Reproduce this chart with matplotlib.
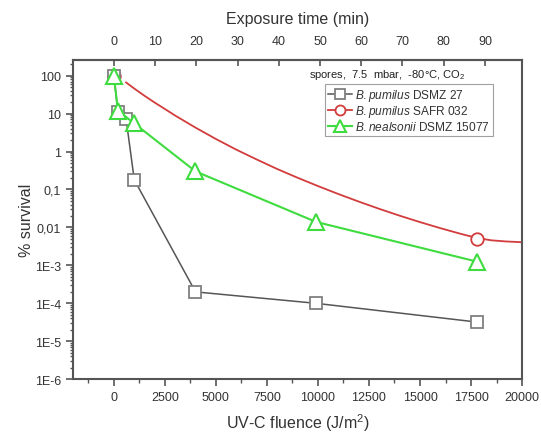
import matplotlib
matplotlib.use("Agg")
import matplotlib.pyplot as plt
from matplotlib.ticker import FixedLocator, FixedFormatter, MultipleLocator, LogLocator, NullFormatter

plt.rcParams['font.family'] = ['Liberation Sans', 'DejaVu Sans']
plt.rcParams['mathtext.fontset'] = 'custom'
plt.rcParams['mathtext.rm'] = 'Liberation Sans'
plt.rcParams['mathtext.it'] = 'Liberation Sans:italic'

# Datos
fluencia_dsmz27 = [0, 200, 600, 1000, 4000, 9900, 17800]
superv_dsmz27 = [100, 11, 7.2, 0.18, 2e-4, 1e-4, 3.2e-5]

fluencia_safr = [0, 17800]
superv_safr = [100, 0.005]
# curva de ajuste SAFR 032 (leida punto a punto)
curva_safr_x = [600, 1000, 1500, 2000, 2500, 3000, 4000, 5000, 6000, 7000, 8000, 9000,
                10000, 11000, 12000, 13000, 14000, 15000, 16000, 17000, 17800, 18500,
                19200, 20000]
curva_safr_y = [66, 45.7, 29.5, 19.5, 13.2, 8.9, 4.27, 2.14, 1.12, 0.617, 0.347, 0.204,
                0.123, 0.0759, 0.0479, 0.0309, 0.0204, 0.0138, 0.00955, 0.00676, 0.00525,
                0.00457, 0.00427, 0.00407]

fluencia_nealsonii = [0, 200, 1000, 4000, 9900, 17800]
superv_nealsonii = [100, 12, 5.5, 0.3, 0.014, 1.25e-3]

ticks_y = [1e2, 1e1, 1, 1e-1, 1e-2, 1e-3, 1e-4, 1e-5, 1e-6]
etiquetas_y = ["100", "10", "1", "0,1", "0,01", "1E-3", "1E-4", "1E-5", "1E-6"]
ticks_min = [0, 10, 20, 30, 40, 50, 60, 70, 80, 90]
FLU_POR_MIN = 202.0

gris = "#555555"
rojo = "#d23c3c"
verde = "#3fdc3f"

fig = plt.figure(figsize=(5.41, 4.35), dpi=100)
ax = fig.add_axes([0.135, 0.126, 0.83, 0.734])

ax.plot(curva_safr_x, curva_safr_y, color=rojo, lw=1.3, zorder=2)
ax.plot(fluencia_safr, superv_safr, color=rojo, lw=1.3, ls='none', marker='o', ms=9,
        mfc='white', mec=rojo, mew=1.3, zorder=3)
ax.plot(fluencia_dsmz27, superv_dsmz27, color=gris, lw=1.1, marker='s', ms=8.5,
        mfc='white', mec='#808080', mew=1.3, zorder=4,
        label=r"$\it{B.pumilus}$ DSMZ 27")
ax.plot([], [], color=rojo, lw=1.3, marker='o', ms=9, mfc='white', mec=rojo, mew=1.3,
        label=r"$\it{B.pumilus}$ SAFR 032")
ax.plot(fluencia_nealsonii, superv_nealsonii, color=verde, lw=1.5, marker='^', ms=11,
        mfc='white', mec=verde, mew=1.5, zorder=5,
        label=r"$\it{B.nealsonii}$ DSMZ 15077")

ax.set_yscale('log')
ax.set_ylim(1e-6, 260)
ax.set_xlim(-2000, 20000)

ax.yaxis.set_major_locator(FixedLocator(ticks_y))
ax.yaxis.set_major_formatter(FixedFormatter(etiquetas_y))
ax.yaxis.set_minor_locator(LogLocator(base=10, subs=range(2, 10), numticks=20))
ax.yaxis.set_minor_formatter(NullFormatter())

ax.xaxis.set_major_locator(FixedLocator([0, 2500, 5000, 7500, 10000, 12500, 15000, 17500, 20000]))
ax.xaxis.set_minor_locator(MultipleLocator(1250))

for s in ax.spines.values():
    s.set_color(gris)
    s.set_linewidth(1.5)

ax.tick_params(axis='both', which='major', direction='out', length=5, width=1.2,
               color=gris, labelsize=9, labelcolor='#333333')
ax.tick_params(axis='both', which='minor', direction='out', length=3, width=1,
               color=gris)
ax.tick_params(axis='y', which='minor', length=2.5)

ax.set_xlabel("UV-C fluence (J/m$^2$)", fontsize=11.5, color='#333333', labelpad=6)
ax.set_ylabel("% survival", fontsize=11.5, color='#333333', labelpad=1)

sec = ax.secondary_xaxis('top', functions=(lambda f: f / FLU_POR_MIN, lambda t: t * FLU_POR_MIN))
sec.xaxis.set_major_locator(FixedLocator(ticks_min))
sec.tick_params(direction='in', length=4, width=1.2, color=gris, labelsize=9,
                labelcolor='#333333', pad=9)
sec.spines['top'].set_color(gris)
sec.spines['top'].set_linewidth(1.5)
sec.set_xlabel("Exposure time (min)", fontsize=11.5, color='#333333', labelpad=9)

ax.text(0.70, 0.955, "spores,  7.5  mbar,  -80°C, CO$_2$", transform=ax.transAxes,
        fontsize=8, color='#222222', ha='center', va='center')

leg = ax.legend(loc='upper right', bbox_to_anchor=(0.935, 0.925), fontsize=8.6,
                frameon=True, fancybox=False, handlelength=2.0, handletextpad=0.3,
                borderpad=0.25, labelspacing=0.05, borderaxespad=0.0, markerscale=0.8)
leg.get_frame().set_edgecolor('#888888')
leg.get_frame().set_linewidth(0.8)
for t in leg.get_texts():
    t.set_color('#333333')

fig.savefig("out.png", dpi=100)
